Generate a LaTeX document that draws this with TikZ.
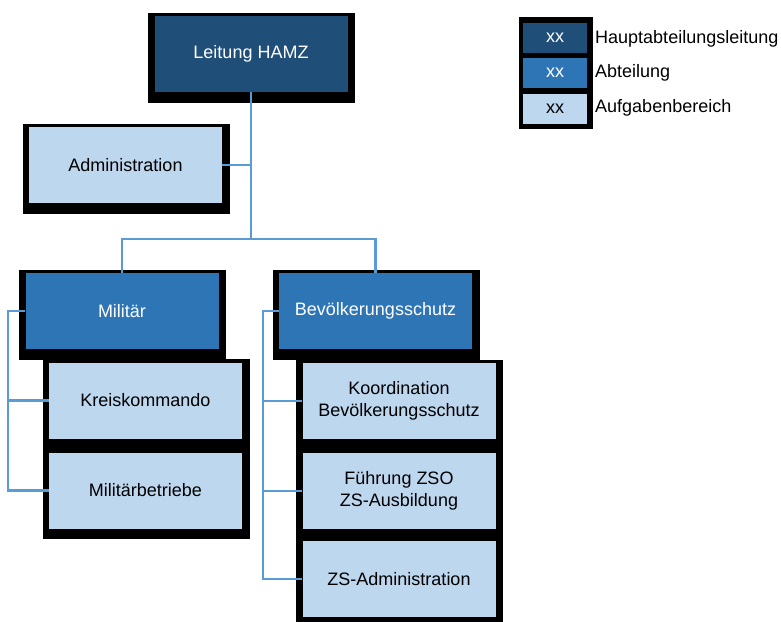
\documentclass[tikz,border=0pt]{standalone}
\usepackage{fontspec}
\setmainfont{Liberation Sans}
\usepackage{xcolor}
\usepackage{tikz}
\usetikzlibrary{calc}
\usetikzlibrary{positioning}

\definecolor{hal}{HTML}{1F4E79}
\definecolor{abt}{HTML}{2E75B6}
\definecolor{auf}{HTML}{BDD7EE}
\definecolor{linie}{HTML}{5B9BD5}

\begin{document}
\begin{tikzpicture}[x=1pt, y=-1pt,
  every node/.style={font=\fontsize{18}{22}\selectfont},
  box/.style ={rectangle, inner sep=0pt, align=center, minimum width=193pt, minimum height=76pt,
    preaction={fill=black, draw=black, line width=14pt, transform canvas={shift={(0.5pt,-3.5pt)}}}},
  lead/.style ={box, fill=hal, text=white},
  dept/.style ={box, fill=abt, text=white},
  task/.style ={box, fill=auf, text=black},
  key/.style ={rectangle, inner sep=0pt, minimum width=64pt, minimum height=30pt},
  conn/.style ={draw=linie, line width=2.2pt}]
\useasboundingbox (0,0) rectangle (781,621);

% Leitung und Stab
\node[lead] (leitung) at (251,54) {Leitung HAMZ};
\node[task] (admin) at (125.5,165) {Administration};

% Abteilungen
\node[dept] (mil) at (122,311) {Militär};
\node[dept] (bev) at (375.5,311) {Bevölkerungsschutz};

% Aufgabenbereiche
\node[task] (kreis) at (145.5,400.5) {Kreiskommando};
\node[task] (betr) at (145.5,490.5) {Militärbetriebe};
\node[task] (koord) at (399,401) {Koordination\\Bevölkerungsschutz};
\node[task] (fuehr) at (399,491) {Führung ZSO\\ZS-Ausbildung};
\node[task] (zsadm) at (399,579) {ZS-Administration};

% Verbindungen
\coordinate (split) at (251,239);
\coordinate (milbus) at (8,311);
\coordinate (bevbus) at (263,311);
\draw[conn] (leitung.south) -- (split);
\draw[conn] (admin.east) -- (admin.east -| split);
\draw[conn] (mil.north) |- (split) -| (bev.north);
\draw[conn] (mil.west) -- (milbus) |- (betr.west);
\draw[conn] (milbus |- kreis.west) -- (kreis.west);
\draw[conn] (bev.west) -- (bevbus) |- (zsadm.west);
\draw[conn] (bevbus |- koord.west) -- (koord.west);
\draw[conn] (bevbus |- fuehr.west) -- (fuehr.west);

% Legende
\node[fill=black, minimum width=74pt, minimum height=112pt, inner sep=0pt] (legende) at (556,73) {};
\node[key, fill=hal, text=white] (k1) at (555,38) {xx};
\node[key, fill=abt, text=white] (k2) at (555,73) {xx};
\node[key, fill=auf, text=black] (k3) at (555,109) {xx};
\node[anchor=west, inner sep=0pt] (l1) at (595,39) {Hauptabteilungsleitung};
\node[anchor=west, inner sep=0pt] (l2) at (595,73) {Abteilung};
\node[anchor=west, inner sep=0pt] (l3) at (595,108) {Aufgabenbereich};
\end{tikzpicture}
\end{document}
